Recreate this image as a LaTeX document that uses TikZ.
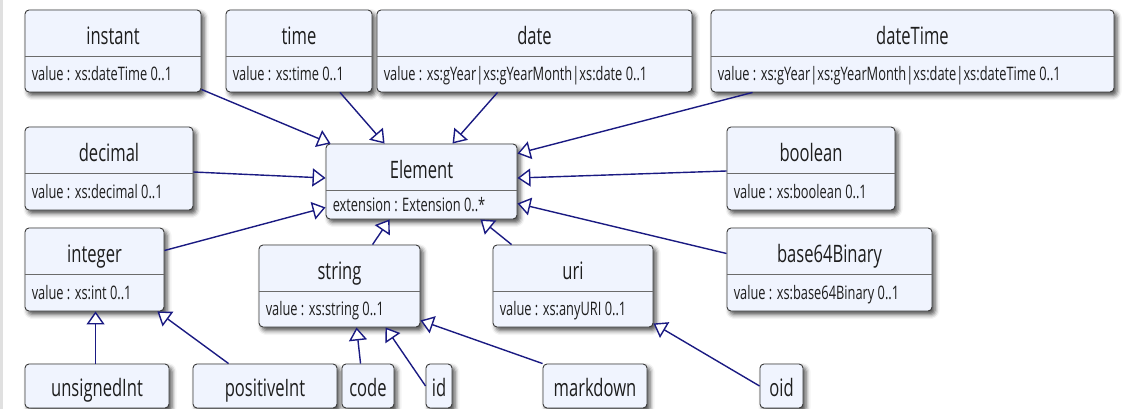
\documentclass[tikz,border=0pt]{standalone}
\usepackage{fontspec}
\newfontfamily\umlfont{Open Sans}[FakeStretch=0.69]
\usetikzlibrary{arrows.meta,calc,fit,shadows.blur}

\definecolor{umlfill}{RGB}{240,244,254}
\definecolor{umlborder}{RGB}{58,58,58}
\definecolor{umltext}{RGB}{30,30,30}
\definecolor{umledge}{RGB}{26,26,130}

% class box: name, x1, y1, x2, y2, title, attribute
\newcommand{\umlclass}[7]{%
  \node[classbox, fit={(#2,#3) (#4,#5)}] (#1) {};
  \coordinate (#1-div) at (#2,{#3+46});
  \draw[divline] (#1.west |- #1-div) -- (#1.east |- #1-div);
  \node[titletext, anchor=base] (#1-name) at ([yshift=-34.5pt]#1.north) {#6};
  \node[attrtext] (#1-value) at ($(#1.west |- #1-div)!0.5!(#1.south west)+(7,6.5)$) {#7};
}
% class box with the name only
\newcommand{\umlleaf}[6]{%
  \node[classbox, fit={(#2,#3) (#4,#5)}] (#1) {};
  \node[titletext, anchor=base] (#1-name) at ([yshift=-33pt]#1.north) {#6};
}

\begin{document}
\begin{tikzpicture}[x=1pt,y=-1pt,
  classbox/.style={draw=umlborder, fill=umlfill, rounded corners=4pt, line width=0.9pt, inner sep=0pt,
    blur shadow={shadow xshift=3pt, shadow yshift=-3.5pt, shadow blur radius=4.5pt, shadow opacity=70}},
  divline/.style={draw=umlborder!75, line width=0.8pt},
  titletext/.style={font=\umlfont\fontsize{24}{28}\selectfont, text=umltext, inner sep=0pt},
  attrtext/.style={font=\umlfont\fontsize{18.6}{22}\selectfont, text=umltext, anchor=base west, inner sep=0pt},
  inherit/.style={draw=umledge, line width=1.4pt, -{Triangle[fill=white, length=13pt, width=18pt]}}]
  \useasboundingbox (0,0) rectangle (1130,409);
  \fill[black!12] (0,0) rectangle (3,409);

  % top row
  \umlclass{instant}{25}{10}{201}{92}{instant}{value : xs:dateTime 0..1}
  \umlclass{time}{226}{10}{372}{92}{time}{value : xs:time 0..1}
  \umlclass{date}{377}{10}{692}{92}{date}{value : xs:gYear|xs:gYearMonth|xs:date 0..1}
  \umlclass{dateTime}{711}{10}{1114}{92}{dateTime}{value : xs:gYear|xs:gYearMonth|xs:date|xs:dateTime 0..1}

  % middle
  \umlclass{decimal}{25}{127}{193}{210}{decimal}{value : xs:decimal 0..1}
  \umlclass{Element}{326}{144}{517}{219}{Element}{extension : Extension 0..*}
  \umlclass{boolean}{727}{127}{895}{210}{boolean}{value : xs:boolean 0..1}
  \umlclass{integer}{25}{228}{164}{311}{integer}{value : xs:int 0..1}
  \umlclass{base64Binary}{727}{228}{932}{311}{base64Binary}{value : xs:base64Binary 0..1}
  \umlclass{string}{259}{245}{420}{327}{string}{value : xs:string 0..1}
  \umlclass{uri}{493}{245}{653}{327}{uri}{value : xs:anyURI 0..1}

  % bottom row
  \umlleaf{unsignedInt}{25}{364}{169}{408}{unsignedInt}
  \umlleaf{positiveInt}{193}{364}{337}{408}{positiveInt}
  \umlleaf{code}{342}{364}{394}{408}{code}
  \umlleaf{id}{426}{364}{452}{408}{id}
  \umlleaf{markdown}{543}{364}{647}{408}{markdown}
  \umlleaf{oid}{760}{364}{803}{408}{oid}

  % generalisations
  \draw[inherit] ([yshift=3pt]instant.south east) -- ([xshift=5pt]Element.north west);
  \draw[inherit] ([xshift=41pt]time.south) -- ([xshift=59pt]Element.north west);
  \draw[inherit] ([xshift=-37pt]date.south) -- ([xshift=127pt]Element.north west);
  \draw[inherit] ([xshift=42pt]dateTime.south west) -- ([yshift=-10pt]Element.north east);
  \draw[inherit] ([yshift=-2.5pt]boolean.west) -- ([yshift=3.5pt]Element.east);
  \draw[inherit] ([yshift=16pt]base64Binary.west) -- ([yshift=16pt]Element.south east);
  \draw[inherit] ([yshift=-3.5pt]decimal.east) -- ([yshift=3.5pt]Element.west);
  \draw[inherit] ([yshift=19pt]integer.east) -- ([yshift=12pt]Element.south west);
  \draw[inherit] ([xshift=114pt]string.north west) -- ([xshift=64pt]Element.south west);
  \draw[inherit] ([xshift=19pt]uri.north west) -- ([xshift=-37pt]Element.south east);
  \draw[inherit] ([xshift=71pt]unsignedInt.north west) -- ([xshift=71pt]integer.south west);
  \draw[inherit] ([xshift=36pt]positiveInt.north west) -- ([xshift=-7pt]integer.south east);
  \draw[inherit] ([xshift=19pt]code.north west) -- ([xshift=98pt]string.south west);
  \draw[inherit] (id.west) -- ([xshift=127pt]string.south west);
  \draw[inherit] (markdown.north west) -- ([yshift=7pt]string.south east);
  \draw[inherit] (oid.west) -- ([yshift=4pt]uri.south east);
\end{tikzpicture}
\end{document}
